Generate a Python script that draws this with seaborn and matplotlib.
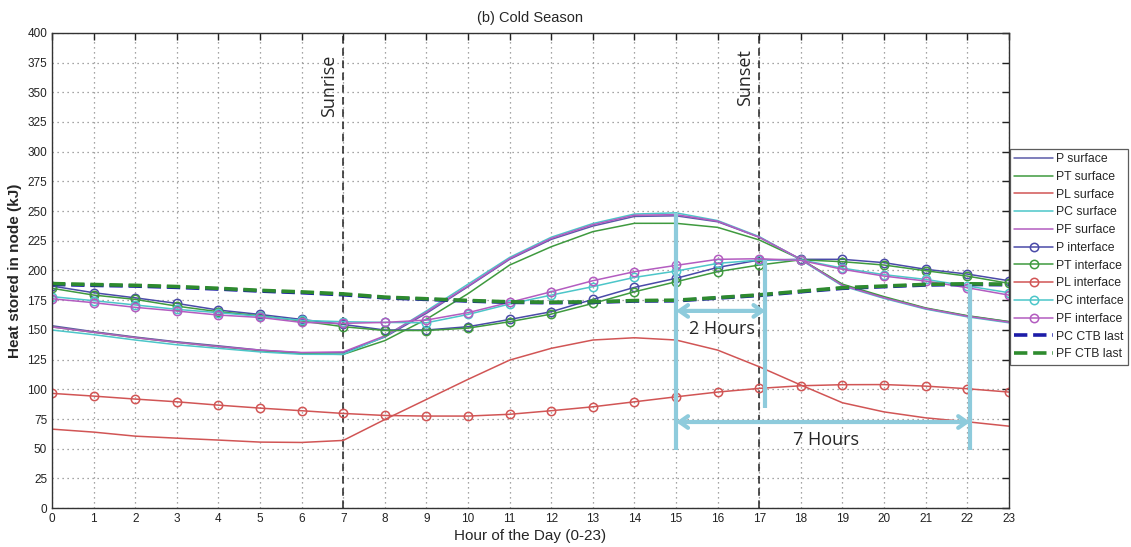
import numpy as np
import pandas as pd
import matplotlib
matplotlib.use("Agg")
import matplotlib.pyplot as plt
import seaborn as sns

hours = list(range(24))

# Surface nodes (kJ)
p_surface = [153.5, 148.5, 144, 140, 136.6, 133, 130.7, 130.8, 144, 164, 186.4, 209.4,
             226.2, 237.4, 245.5, 246, 241, 228, 209.4, 187.8, 177.4, 168.1, 161.7, 156.9]
pt_surface = [152.5, 148, 143.5, 139.5, 136, 132.5, 130, 129.4, 141, 159, 180.5, 204.6,
              220, 232.7, 239.7, 239.7, 236.3, 225.7, 209.4, 188.5, 178, 168.5, 162, 157]
pl_surface = [66.5, 64, 60.6, 58.9, 57.3, 55.6, 55.3, 57, 74.6, 91.5, 108.4, 124.6,
              134.5, 141.5, 143.4, 141.5, 133, 119, 103.6, 88.7, 81, 76, 72.7, 69]
pc_surface = [149.9, 146, 141.5, 137.5, 134.5, 131.5, 129.5, 129.4, 144.5, 166, 188.5, 211,
              228, 239.5, 247.5, 248.5, 242, 228.5, 209, 187, 176.5, 167.5, 161, 156]
pf_surface = [152.5, 148, 143.5, 139.5, 136, 133, 131, 131.5, 145, 165, 187, 210,
              227, 238.5, 246.5, 247, 241.5, 228, 209.4, 187.5, 177, 168, 161.5, 156.5]

# Interface nodes (kJ)
p_interface = [186.9, 181.3, 177, 172.3, 166.7, 163, 158.8, 154.6, 149.9, 149.9, 152.7, 158.8,
               165.3, 175.7, 185.8, 193.4, 202.6, 208.8, 209.4, 209.4, 206.6, 201, 197, 191.4]
pt_interface = [185, 179.3, 175.7, 170, 165.3, 161.9, 157.5, 152.7, 149.5, 149.5, 151.5, 156.9,
                163.3, 172.3, 182.1, 190.5, 199, 204.6, 209, 207.4, 204.6, 199.8, 195.3, 189.2]
pl_interface = [96.6, 94.3, 91.8, 89.5, 86.7, 84.2, 82, 79.7, 78, 77.5, 77.5, 79,
                82, 85.3, 89.5, 93.7, 97.7, 100.8, 103, 103.9, 104, 102.7, 100.5, 97.7]
pc_interface = [178, 174.6, 171, 167.3, 164.5, 161.5, 158, 156.9, 156.3, 156, 163, 171.8,
                179.3, 186.4, 194.2, 199.5, 206, 208.8, 209, 202, 196.5, 192.5, 187, 181.3]
pf_interface = [176.2, 172.9, 169, 165.9, 162.5, 160.5, 156.3, 155.5, 156.3, 158.3, 164.5, 173.2,
                182.1, 191.4, 199, 204.3, 209.4, 209.9, 208.5, 201, 195.3, 191.1, 185.5, 179.3]

# Last-node values of the thermal battery
pc_ctb_last = [188.3, 187.5, 186.9, 185.8, 184.4, 182.7, 181.3, 179.6, 177, 175.7, 174.3, 173.2,
               172.9, 173.2, 174.3, 174.5, 176.8, 179, 182.1, 185, 186.4, 187.8, 188.3, 188]
pf_ctb_last = [189, 188.2, 187.5, 186.5, 185, 183.3, 182, 180.3, 177.6, 176.2, 174.8, 173.6,
               173.3, 173.6, 174.7, 175, 177.2, 179.5, 182.6, 185.5, 186.9, 188.3, 188.8, 188.5]

series = [
    ("P surface", p_surface, "#5b5ba8", "-", None, 1.1),
    ("PT surface", pt_surface, "#3f9a3f", "-", None, 1.1),
    ("PL surface", pl_surface, "#d15555", "-", None, 1.1),
    ("PC surface", pc_surface, "#4cc6c9", "-", None, 1.1),
    ("PF surface", pf_surface, "#b35cc0", "-", None, 1.1),
    ("P interface", p_interface, "#4a4aa8", "-", "o", 1.1),
    ("PT interface", pt_interface, "#3f9a3f", "-", "o", 1.1),
    ("PL interface", pl_interface, "#d15555", "-", "o", 1.1),
    ("PC interface", pc_interface, "#4cc6c9", "-", "o", 1.1),
    ("PF interface", pf_interface, "#b35cc0", "-", "o", 1.1),
    ("PC CTB last", pc_ctb_last, "#1c1ca8", "--", None, 2.6),
    ("PF CTB last", pf_ctb_last, "#2e8b2e", "--", None, 2.6),
]

sns.set_theme(style="white")
plt.rcParams["font.family"] = ["Liberation Sans", "DejaVu Sans"]

fig = plt.figure(figsize=(11.31, 5.47), dpi=100)
ax = fig.add_axes([0.046, 0.071, 0.846, 0.869])

for name, vals, color, ls, marker, lw in series:
    df = pd.DataFrame({"hour": hours, "kJ": vals})
    sns.lineplot(data=df, x="hour", y="kJ", ax=ax, color=color, linestyle=ls,
                 linewidth=lw, marker=marker, markersize=6, markerfacecolor="none",
                 markeredgecolor=color, markeredgewidth=1.1, label=name)

ax.set_xlim(0, 23)
ax.set_ylim(0, 400)
ax.set_xticks(range(0, 24))
ax.set_yticks(range(0, 401, 25))
ax.tick_params(axis="both", direction="in", length=5, width=1, labelsize=8.5,
               top=True, right=True, colors="#222222")
ax.grid(True, linestyle=(0, (1, 3)), color="#888888", linewidth=0.9)
for s in ax.spines.values():
    s.set_color("#333333")
    s.set_linewidth(1.0)

ax.set_xlabel("Hour of the Day (0-23)", fontsize=11, labelpad=3)
ax.set_ylabel("Heat stored in node (kJ)", fontsize=11, fontweight="bold", labelpad=4)
ax.set_title("(b) Cold Season", fontsize=10.5, pad=8)

# Sunrise / sunset markers
for hx, txt, top in [(7, "Sunrise", 382), (17, "Sunset", 386)]:
    ax.axvline(hx, color="#222222", linestyle=(0, (5, 3)), linewidth=1.1, zorder=1)
    ax.text(hx - 0.12, top, txt, rotation=90,
            ha="right", va="top", fontsize=13, family=["Open Sans", "DejaVu Sans"])

# Lag annotations
lag_color = "#8ecbdc"
ax.plot([15, 15], [49, 248.5], color=lag_color, linewidth=3, solid_capstyle="butt")
ax.plot([17.15, 17.15], [84, 209], color=lag_color, linewidth=3, solid_capstyle="butt")
ax.plot([22.07, 22.07], [49, 189], color=lag_color, linewidth=3, solid_capstyle="butt")
arrow_style = dict(arrowstyle="<->,head_length=0.5,head_width=0.35", color=lag_color,
                   lw=3, shrinkA=0, shrinkB=0)
ax.annotate("", xy=(17.15, 166), xytext=(15, 166), arrowprops=arrow_style)
ax.annotate("", xy=(22.07, 72.5), xytext=(15, 72.5), arrowprops=arrow_style)
ax.text(16.1, 151, "2 Hours", ha="center", va="center", fontsize=13,
        family=["Open Sans", "DejaVu Sans"])
ax.text(18.6, 57, "7 Hours", ha="center", va="center", fontsize=13,
        family=["Open Sans", "DejaVu Sans"])

leg = ax.legend(loc="upper left", bbox_to_anchor=(1.001, 0.756), fontsize=8.8,
                frameon=True, fancybox=False, edgecolor="#333333", handlelength=3.2,
                labelspacing=0.47, borderpad=0.35, handletextpad=0.25, borderaxespad=0)
leg.get_frame().set_linewidth(0.9)

fig.savefig("out.png", dpi=100)
